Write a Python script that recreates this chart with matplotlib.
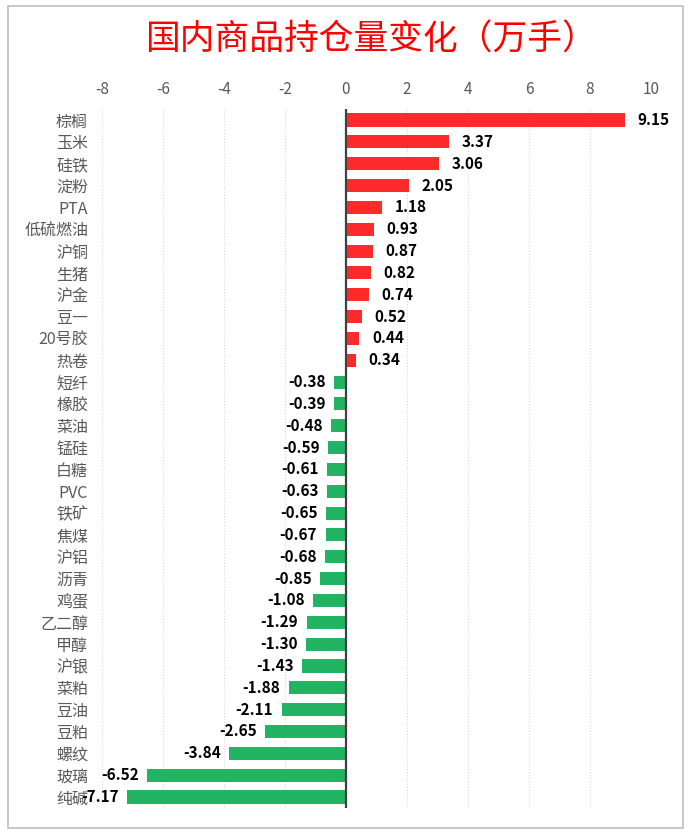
import matplotlib.pyplot as plt
import matplotlib.patches as patches
import numpy as np

plt.rcParams['font.family'] = ['Noto Sans CJK SC', 'DejaVu Sans']

# Data (万手)
categories = ['棕榈', '玉米', '硅铁', '淀粉', 'PTA', '低硫燃油', '沪铜', '生猪', '沪金', '豆一',
              '20号胶', '热卷', '短纤', '橡胶', '菜油', '锰硅', '白糖', 'PVC', '铁矿', '焦煤',
              '沪铝', '沥青', '鸡蛋', '乙二醇', '甲醇', '沪银', '菜粕', '豆油', '豆粕', '螺纹',
              '玻璃', '纯碱']
values = [9.15, 3.37, 3.06, 2.05, 1.18, 0.93, 0.87, 0.82, 0.74, 0.52,
          0.44, 0.34, -0.38, -0.39, -0.48, -0.59, -0.61, -0.63, -0.65, -0.67,
          -0.68, -0.85, -1.08, -1.29, -1.30, -1.43, -1.88, -2.11, -2.65, -3.84,
          -6.52, -7.17]
x_ticks = [-8, -6, -4, -2, 0, 2, 4, 6, 8, 10]

red = '#FF2B2B'
green = '#22B463'

fig = plt.figure(figsize=(7, 8.4), dpi=100)
ax = fig.add_axes([0.1457, 0.0382, 0.7843, 0.8319])

y = np.arange(len(categories))
colors = [red if v >= 0 else green for v in values]
ax.barh(y, values, height=0.6, color=colors, zorder=2)

ax.set_xlim(-8, 10)
ax.set_ylim(len(categories) - 0.5, -0.5)

# value labels
for yi, v in zip(y, values):
    if v >= 0:
        ax.annotate(f'{v:.2f}', (v, yi), xytext=(9, 0), textcoords='offset points',
                    ha='left', va='center', fontsize=11, fontweight='bold', color='black')
    else:
        ax.annotate(f'{v:.2f}', (v, yi), xytext=(-6, 0), textcoords='offset points',
                    ha='right', va='center', fontsize=11, fontweight='bold', color='black')

# zero line
ax.axvline(0, color='#404040', linewidth=1.6, zorder=3)

# x axis on top
ax.xaxis.tick_top()
ax.set_xticks(x_ticks)
ax.set_xticklabels([str(t) for t in x_ticks], fontsize=11, color='#595959')
ax.tick_params(axis='x', length=0, pad=8)
ax.set_yticks(y)
ax.set_yticklabels(categories, fontsize=11.5, color='#595959')
ax.tick_params(axis='y', length=0, pad=10)

ax.grid(axis='x', color='#D9D9D9', linestyle=':', linewidth=0.8, zorder=0)
for s in ax.spines.values():
    s.set_visible(False)

fig.text(0.53, 0.952, '国内商品持仓量变化（万手）', ha='center', va='center',
         fontsize=25, color='#FF0000')

# chart border
border = patches.Rectangle((0.011, 0.0143), 0.965, 0.978, transform=fig.transFigure,
                           fill=False, edgecolor='#BFBFBF', linewidth=1.2)
fig.patches.append(border)

fig.savefig('out.png', dpi=100)
